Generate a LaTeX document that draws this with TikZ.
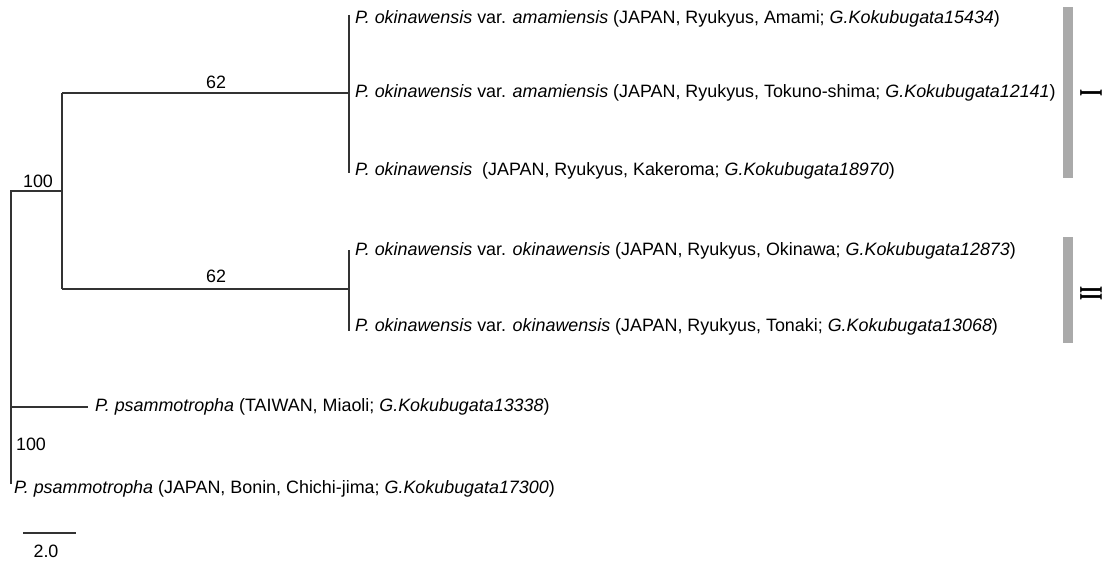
\documentclass[tikz,border=0pt]{standalone}
\usepackage{fontspec}
\usepackage{graphicx}
\setmainfont{Liberation Sans}
\newfontfamily\romfont{Liberation Serif}
\definecolor{branch}{HTML}{333333}
\definecolor{bargray}{HTML}{AAAAAA}
\begin{document}
\begin{tikzpicture}[x=1pt,y=-1pt,
  br/.style={draw=branch,line width=1.1pt},
  leaf/.style={anchor=west,inner sep=0pt,font=\fontsize{17.9}{21}\selectfont},
  lab/.style={inner sep=0pt,font=\fontsize{17.9}{21}\selectfont},
  clade/.style={fill=bargray,draw=none},
  roman/.style={inner sep=0pt,font=\romfont\bfseries\fontsize{12}{12}\selectfont}]
\useasboundingbox (0,0) rectangle (1107,561);
% internal nodes
\coordinate (root) at (11,191);
\coordinate (rootbot) at (11,484);
\coordinate (nA) at (62,191);
\coordinate (nAtop) at (62,93);
\coordinate (nAbot) at (62,289);
\coordinate (c1) at (349,93);
\coordinate (c1top) at (349,15);
\coordinate (c1bot) at (349,173);
\coordinate (c2) at (349,289);
\coordinate (c2top) at (349,250);
\coordinate (c2bot) at (349,331);
\coordinate (tw) at (11,407);
% leaves
\node[leaf] (l1) at (355,19) {\textit{P. okinawensis} var. \textit{amamiensis} (JAPAN, Ryukyus, Amami; \textit{G.Kokubugata15434})};
\node[leaf] (l2) at (355,93) {\textit{P. okinawensis} var. \textit{amamiensis} (JAPAN, Ryukyus, Tokuno-shima; \textit{G.Kokubugata12141})};
\node[leaf] (l3) at (355,171) {\textit{P. okinawensis}\ \ (JAPAN, Ryukyus, Kakeroma; \textit{G.Kokubugata18970})};
\node[leaf] (l4) at (355,251) {\textit{P. okinawensis} var. \textit{okinawensis} (JAPAN, Ryukyus, Okinawa; \textit{G.Kokubugata12873})};
\node[leaf] (l5) at (355,327) {\textit{P. okinawensis} var. \textit{okinawensis} (JAPAN, Ryukyus, Tonaki; \textit{G.Kokubugata13068})};
\node[leaf] (l6) at (95,407) {\textit{P. psammotropha} (TAIWAN, Miaoli; \textit{G.Kokubugata13338})};
\node[leaf] (l7) at (14,489) {\textit{P. psammotropha} (JAPAN, Bonin, Chichi-jima; \textit{G.Kokubugata17300})};
% branches
\draw[br] (rootbot) -- (root) -- (nA);
\draw[br] (nAtop) -- (nAbot);
\draw[br] (nAtop) -- (c1);
\draw[br] (nAbot) -- (c2);
\draw[br] (c1top) -- (c1bot);
\draw[br] (c2top) -- (c2bot);
\draw[br] (tw) -- ([xshift=-7pt]l6.west);
% support values
\node[lab] (s1) at (38,181) {100};
\node[lab] (s2) at (216,82) {62};
\node[lab] (s3) at (216,276) {62};
\node[lab] (s4) at (31,444) {100};
% scale bar
\coordinate (sb1) at (23,533);
\coordinate (sb2) at (76,533);
\draw[br] (sb1) -- (sb2);
\node[lab] (sbl) at (46,551) {2.0};
% clade bars
\fill[clade] (1063,7) rectangle (1073,178);
\fill[clade] (1063,237) rectangle (1073,343);
\node[roman] (cI) at (1091,93) {\rotatebox{90}{\scalebox{1.5}[2.75]{I}}};
\node[roman] (cII) at (1091,293) {\rotatebox{90}{\scalebox{1.5}[2.75]{II}}};
\end{tikzpicture}
\end{document}
